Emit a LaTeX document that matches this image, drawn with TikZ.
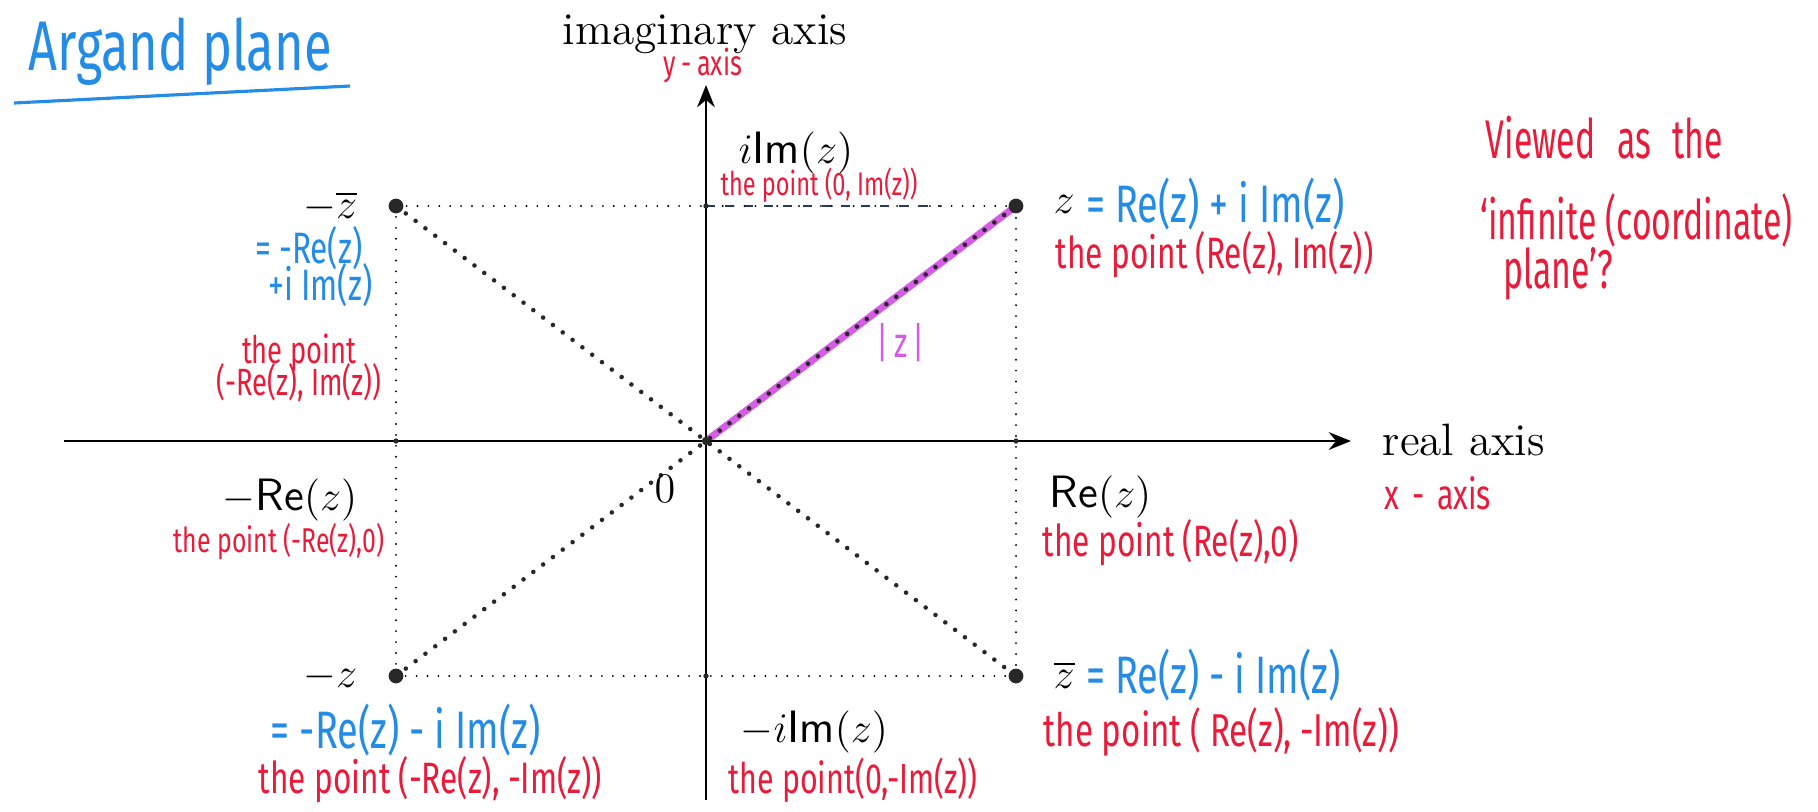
\documentclass[tikz,border=0pt]{standalone}
\usepackage{amsmath}
\usepackage{fontspec}
\usepackage{tikz}
\usetikzlibrary{arrows.meta,positioning}
\newfontfamily\hand[FakeStretch=0.72]{Fira Sans}
\newfontfamily\handnarrow[FakeStretch=0.62]{Fira Sans}
\newcommand{\penfont}[1]{\hand\fontsize{#1}{#1}\selectfont}
\definecolor{penred}{RGB}{232,28,58}
\definecolor{penblue}{RGB}{36,140,228}
\definecolor{penpink}{RGB}{214,92,230}
\definecolor{ink}{RGB}{40,40,40}
\definecolor{penmark}{RGB}{40,60,90}

\begin{document}
\begin{tikzpicture}[
      x=0.01cm, y=-0.01cm, >={Stealth[length=6.3pt,width=5pt]},
      tx/.style={inner sep=0pt, font=\fontsize{12.9}{15}\selectfont},
      hr/.style={inner sep=0pt, text=penred, font=\penfont{12.5}},
      hb/.style={inner sep=0pt, text=penblue, font=\penfont{15}},
      note/.style={inner sep=0pt, text=penred, font=\handnarrow\fontsize{15.5}{15.5}\selectfont},
      axis/.style={line width=0.8pt, ->},
      frame/.style={line width=0.6pt, dash pattern=on 0pt off 3.1pt, line cap=round},
      diag/.style={line width=1.3pt, dash pattern=on 0pt off 3.5pt, line cap=round, ink},
      pt/.style={circle, fill=ink, inner sep=0pt, minimum size=4.2pt},
      knot/.style={circle, fill=ink, inner sep=0pt, minimum size=1.5pt},
    ]
    \useasboundingbox (0,0) rectangle (1818,811);

    % the four points and the axes
    \coordinate (O) at (706,441);
    \coordinate (z) at (1016,206);
    \coordinate (mzb) at (396,206);
    \coordinate (mz) at (396,676);
    \coordinate (zb) at (1016,676);
    \coordinate (xl) at (64,441);
    \coordinate (xr) at (1351,441);
    \coordinate (yb) at (706,800);
    \coordinate (yt) at (706,85);
    \coordinate (imtop) at (706,206);
    \coordinate (imbot) at (706,676);
    \coordinate (retick) at (1016,441);
    \coordinate (mretick) at (396,441);
    \coordinate (markend) at (940,206);

    \draw[frame] (mzb) rectangle (zb);
    \draw[penmark, line width=0.8pt, dash pattern=on 2.5pt off 3pt] (imtop) -- (markend);
    \draw[penpink, line width=2pt] (O) -- (z);
    \draw[diag] (mzb) -- (zb);
    \draw[diag] (mz) -- (z);
    \draw[axis] (xl) -- (xr);
    \draw[axis] (yb) -- (yt);

    \node[pt] (dz) at (z) {};
    \node[pt] (dmzb) at (mzb) {};
    \node[pt] (dmz) at (mz) {};
    \node[pt] (dzb) at (zb) {};
    \node[knot, minimum size=2.4pt] (dO) at (O) {};
    \node[knot] (dre) at (retick) {};
    \node[knot] (dmre) at (mretick) {};
    \node[knot] (dim) at (imtop) {};
    \node[knot] (dmim) at (imbot) {};

    % axis names
    \node[tx, anchor=base] (imag) at (705,44) {imaginary axis};
    \node[hr, font=\penfont{10}] (yax) at (703,66) {y\hspace{0.15em}-\hspace{0.15em}axis};
    \node[tx, anchor=base west] (realax) at (1382,455) {real axis};
    \node[hr, font=\penfont{12}, anchor=west] (xax) at (1384,493) {x\hspace{0.3em}-\hspace{0.3em}axis};

    % z
    \node[tx, anchor=base west] (zlab) at (1053,213) {$z$};
    \node[hb, right=1mm of zlab] (zeq) {= Re(z) + i Im(z)};
    \node[hr, anchor=west] (zpt) at (1055,255) {the point (Re(z), Im(z))};

    % -zbar
    \node[tx, anchor=base east] (mzblab) at (358,218) {$-\overline{z}$};
    \node[hb, font=\penfont{12.5}, anchor=east] (mzbeq1) at (363,248) {= -Re(z)};
    \node[hb, font=\penfont{12.5}, anchor=east] (mzbeq2) at (373,285) {+i Im(z)};
    \node[hr, font=\penfont{10.8}, align=center] (mzbpt) at (299,368)
      {the point\\[-3.5pt](-Re(z), Im(z))};

    % imaginary part
    \node[tx, anchor=base west] (iim) at (738,163) {$i\mathsf{Im}(z)$};
    \node[hr, font=\penfont{9.3}] (iimpt) at (819,185) {the point (0, Im(z))};
    \node[tx, anchor=base west] (miim) at (740,742) {$-i\mathsf{Im}(z)$};
    \node[hr, font=\penfont{12}, anchor=west] (miimpt) at (728,780) {the point(0,-Im(z))};

    % modulus
    \node[inner sep=0pt, text=penpink, font=\penfont{12}] (abs) at (901,343) {|\kern1.5pt z\kern1.5pt|};

    % real part
    \node[tx, anchor=base east] (mrelab) at (358,510) {$-\mathsf{Re}(z)$};
    \node[hr, font=\penfont{9.8}, anchor=east] (mrept) at (385,542) {the point (-Re(z),0)};
    \node[tx, anchor=base east] (zero) at (676,502) {$0$};
    \node[tx, anchor=base west] (relab) at (1049,507) {$\mathsf{Re}(z)$};
    \node[hr, anchor=west] (rept) at (1042,543) {the point (Re(z),0)};

    % -z
    \node[tx, anchor=base east] (mzlab) at (358,687) {$-z$};
    \node[hb, anchor=west] (mzeq) at (270,730) {= -Re(z) - i Im(z)};
    \node[hr, anchor=west] (mzpt) at (258,780) {the point (-Re(z), -Im(z))};

    % zbar
    \node[tx, anchor=base west] (zblab) at (1053,688) {$\overline{z}$};
    \node[hb, right=1mm of zblab] (zbeq) {= Re(z) - i Im(z)};
    \node[hr, font=\penfont{13.1}, anchor=west] (zbpt) at (1043,732) {the point ( Re(z), -Im(z))};

    % notes
    \node[hb, font=\penfont{20}] (title) at (180,52) {Argand plane};
    \draw[penblue, line width=0.9pt] (14,103) -- (350,86);
    \node[note, anchor=west] (note1) at (1485,138) {Viewed\hspace{0.4em}as\hspace{0.4em}the};
    \node[note, anchor=west] (note2) at (1480,220) {‘infinite (coordinate)};
    \node[note, anchor=west] (note3) at (1503,274) {plane’?};
  \end{tikzpicture}
\end{document}
